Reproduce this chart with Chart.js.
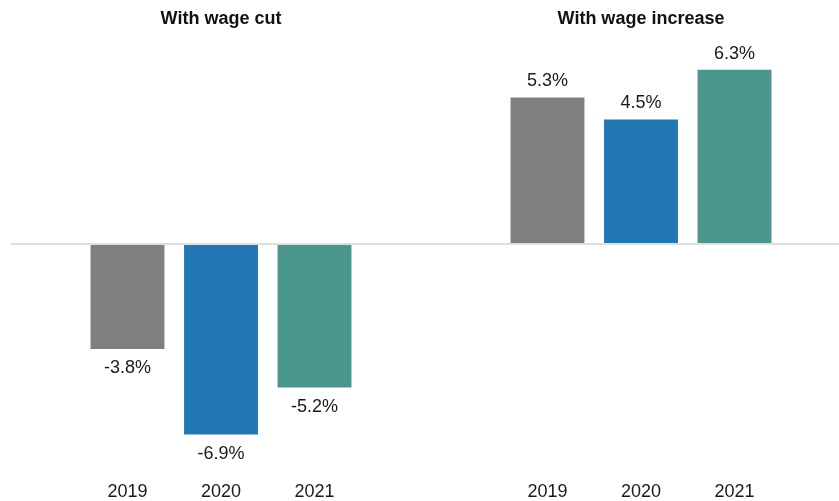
<!DOCTYPE html>
<html>
<head>
<meta charset="utf-8">
<title>Wage change</title>
<script src="https://cdn.jsdelivr.net/npm/chart.js@4/dist/chart.umd.min.js"></script>
<style>
  html, body { margin: 0; padding: 0; background: #fff; overflow: hidden; }
  #wrap { width: 851px; height: 501px; position: relative; }
</style>
</head>
<body>
<div id="wrap"><canvas id="chart"></canvas></div>
<script>
const groups = ['With wage cut', 'With wage increase'];
const years = ['2019', '2020', '2021'];
const change2019 = [-3.8, 5.3];
const change2020 = [-6.9, 4.5];
const change2021 = [-5.2, 6.3];
const barColors = ['#7f7f7f', '#2077b4', '#4a968f'];

const FONT = '"Liberation Sans", Arial, sans-serif';

// value labels at the bar ends + year labels under every bar
const barLabels = {
  id: 'barLabels',
  afterDatasetsDraw(chart) {
    const ctx = chart.ctx;
    ctx.save();
    ctx.textAlign = 'center';
    ctx.textBaseline = 'middle';
    ctx.fillStyle = '#1a1a1a';
    ctx.font = '18px ' + FONT;
    chart.data.datasets.forEach((ds, di) => {
      const meta = chart.getDatasetMeta(di);
      meta.data.forEach((bar, i) => {
        const v = ds.data[i];
        const y = v >= 0 ? bar.y - 16 : bar.y + 19;
        ctx.fillText(v.toFixed(1) + '%', bar.x, y);
        ctx.fillText(ds.label, bar.x, chart.chartArea.bottom + 27);
      });
    });
    ctx.restore();
  }
};

new Chart(document.getElementById('chart'), {
  type: 'bar',
  data: {
    labels: groups,
    datasets: years.map((y, i) => ({
      label: y,
      data: [change2019, change2020, change2021][i],
      backgroundColor: barColors[i],
      categoryPercentage: 0.668,
      barPercentage: 0.79
    }))
  },
  options: {
    responsive: true,
    maintainAspectRatio: false,
    animation: false,
    layout: { padding: { left: 11, right: 0, top: 1, bottom: 36 } },
    plugins: { legend: { display: false }, tooltip: { enabled: false } },
    scales: {
      x: {
        position: 'top',
        grid: { display: false, drawTicks: false },
        border: { display: false },
        ticks: { color: '#111', padding: 7, font: { family: FONT, size: 18, weight: 'bold' } }
      },
      y: {
        min: -8,
        max: 7.5,
        grid: {
          drawTicks: false,
          lineWidth: 2,
          color: c => c.tick.value === 0 ? '#dedede' : 'rgba(0,0,0,0)'
        },
        border: { display: false },
        ticks: { display: false, stepSize: 1 }
      }
    }
  },
  plugins: [barLabels]
});
</script>
</body>
</html>
